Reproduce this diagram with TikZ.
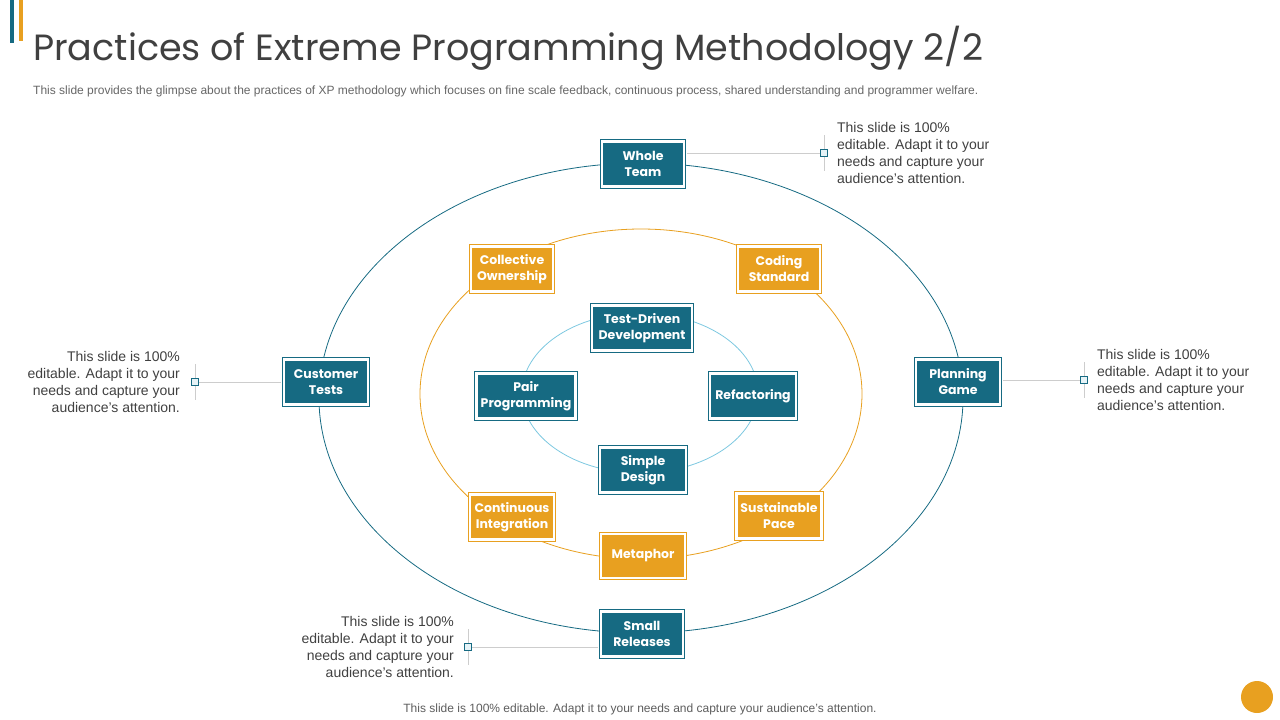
\documentclass[tikz,border=0pt]{standalone}
\usepackage{fontspec}
\setmainfont{Liberation Sans}
\newfontfamily\headfont{Poppins}
\usetikzlibrary{positioning,backgrounds}

\definecolor{xpteal}{RGB}{22,106,130}
\definecolor{xporange}{RGB}{232,160,32}
\definecolor{xpsky}{RGB}{125,200,224}
\definecolor{xpgray}{RGB}{64,64,64}
\definecolor{xplead}{RGB}{205,205,205}
\definecolor{xpmark}{RGB}{230,243,247}

\begin{document}
\begin{tikzpicture}[
  x=1pt, y=-1pt,
  every node/.style={inner sep=0pt},
  practice/.style={fill=#1, draw=white, line width=2.2pt, preaction={draw=#1, line width=4.2pt},
    minimum width=82pt, minimum height=45pt, align=center, text=white,
    font=\headfont\bfseries\fontsize{12.5}{16}\selectfont},
  core/.style={practice=xpteal},
  ring/.style={practice=xporange},
  marker/.style={draw=xpteal, fill=xpmark, line width=0.8pt, minimum size=7pt},
  lead/.style={draw=xplead, line width=0.8pt},
  note/.style={font=\fontsize{14}{17}\selectfont, text=xpgray},
]
\useasboundingbox (0,0) rectangle (1280,720);

% header
\fill[xpteal] (10,0) rectangle (14,43);
\fill[xporange] (19,0) rectangle (23,41);
\node[anchor=base west, font=\headfont\fontsize{36.5}{40}\selectfont, text=xpgray] (title) at (33,60)
  {Practices of Extreme Programming Methodology 2/2};
\node[anchor=base west, font=\fontsize{12}{14}\selectfont, text=xpgray!80] (sub) at (33,94)
  {This slide provides the glimpse about the practices of XP  methodology which focuses on fine scale feedback, continuous process, shared understanding and programmer welfare.};

% rings
\draw[xpteal, line width=0.8pt] (641,398) ellipse [x radius=322pt, y radius=235pt];
\draw[xporange, line width=0.8pt] (641,394) ellipse [x radius=221pt, y radius=165pt];
\draw[xpsky, line width=0.8pt] (640,393) ellipse [x radius=118pt, y radius=80pt];

% outer practices
\node[core] (whole) at (643,164) {Whole\\Team};
\node[core, minimum width=84pt] (customer) at (326,382) {Customer\\Tests};
\node[core, minimum width=84pt] (planning) at (958,382) {Planning\\Game};
\node[core] (small) at (642,634) {Small\\Releases};

% middle practices
\node[ring] (collective) at (512,269) {Collective\\Ownership};
\node[ring] (coding) at (779,269) {Coding\\Standard};
\node[ring, minimum width=84pt] (continuous) at (512,517) {Continuous\\Integration};
\node[ring, minimum width=85pt] (sustainable) at (779,516) {Sustainable\\Pace};
\node[ring, minimum width=84pt, minimum height=44pt] (metaphor) at (643,556) {Metaphor};

% inner practices
\node[core, minimum width=100pt] (tdd) at (642,328) {Test-Driven\\Development};
\node[core, minimum width=99pt] (pair) at (526,396) {Pair\\Programming};
\node[core, minimum width=86pt] (refactor) at (753,396) {Refactoring};
\node[core, minimum width=86pt] (simple) at (643,470) {Simple\\Design};

% callouts
\node[marker] (mWhole) at (824,153) {};
\node[marker] (mCustomer) at (195,382) {};
\node[marker] (mPlanning) at (1084,380) {};
\node[marker] (mSmall) at (468,647) {};

\begin{scope}[on background layer]
  \draw[lead, shorten >=2.2pt] (mWhole) -- (mWhole -| whole.east);
  \draw[lead, shorten >=2.2pt] (mCustomer) -- (mCustomer -| customer.west);
  \draw[lead, shorten >=2.2pt] (mPlanning) -- (mPlanning -| planning.east);
  \draw[lead, shorten >=2.2pt] (mSmall) -- (mSmall -| small.west);
  \foreach \m in {mWhole, mCustomer, mPlanning, mSmall}
    \draw[lead] ([yshift=18pt]\m.center) -- ([yshift=-18pt]\m.center);
\end{scope}

\node[note, align=left, right=9pt of mWhole] (nWhole)
  {This slide is 100\%\\editable. Adapt it to your\\needs and capture your\\audience's attention.};
\node[note, align=right, left=11pt of mCustomer] (nCustomer)
  {This slide is 100\%\\editable. Adapt it to your\\needs and capture your\\audience's attention.};
\node[note, align=left, right=9pt of mPlanning] (nPlanning)
  {This slide is 100\%\\editable. Adapt it to your\\needs and capture your\\audience's attention.};
\node[note, align=right, left=10pt of mSmall] (nSmall)
  {This slide is 100\%\\editable. Adapt it to your\\needs and capture your\\audience's attention.};

% footer
\node[anchor=base, font=\fontsize{12}{14}\selectfont, text=xpgray!85] (foot) at (640,712)
  {This slide is 100\% editable. Adapt it to your needs and capture your audience's attention.};
\fill[xporange] (1257,697) circle [radius=16pt];
\end{tikzpicture}
\end{document}
